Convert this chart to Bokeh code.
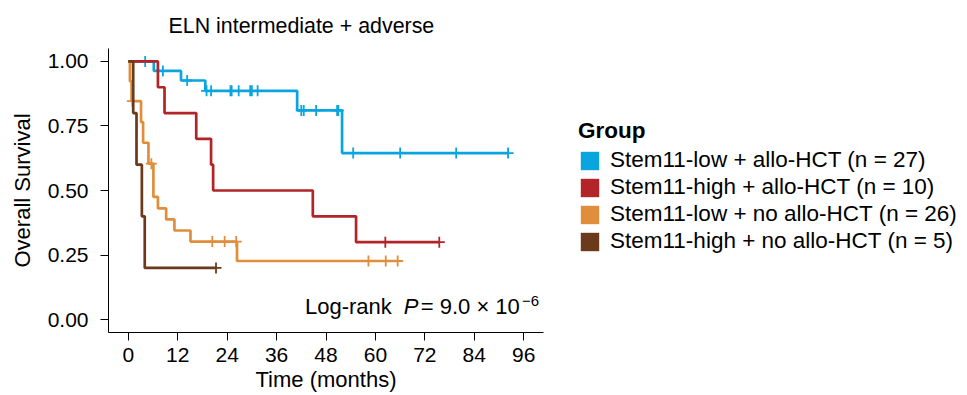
import numpy as np
from bokeh.plotting import figure
from bokeh.models import (Range1d, FixedTicker, NumeralTickFormatter, Legend,
                          LegendItem, Label)
from bokeh.embed import file_html
from bokeh.resources import INLINE

# ---------------- data ----------------
title_text = "ELN intermediate + adverse"
groups = ["Stem11-low + allo-HCT", "Stem11-high + allo-HCT",
          "Stem11-low + no allo-HCT", "Stem11-high + no allo-HCT"]
n_patients = [27, 10, 26, 5]
colors = ["#0AA5DF", "#B22428", "#E08E3C", "#6A3A1A"]

low_hct_times = [0, 6.2, 12.8, 18.7, 41.0, 51.9]
low_hct_surv = [1.0, 0.963, 0.926, 0.886, 0.810, 0.645]
low_hct_censor = [4.1, 8.4, 14.3, 19.0, 20.1, 24.8, 25.1, 26.8, 29.6, 30.0,
                  31.4, 42.0, 42.6, 45.6, 50.7, 51.0, 54.6, 66.0, 79.6, 92.2]

high_hct_times = [0, 7.2, 8.8, 16.5, 20.1, 20.6, 44.8, 55.3]
high_hct_surv = [1.0, 0.9, 0.8, 0.7, 0.6, 0.5, 0.4, 0.3]
high_hct_censor = [62.4, 75.5]

low_nohct_times = [0, 0.4, 0.8, 3.1, 3.6, 4.9, 6.1, 7.2, 9.2, 11.2, 15.1, 26.4]
low_nohct_surv = [1.0, 0.923, 0.846, 0.765, 0.685, 0.604, 0.475, 0.431,
                  0.388, 0.345, 0.302, 0.227]
low_nohct_censor = [1.0, 5.6, 20.4, 23.4, 26.2, 58.3, 62.5, 65.4]

high_nohct_times = [0, 1.2, 2.0, 3.3, 4.0]
high_nohct_surv = [1.0, 0.8, 0.6, 0.4, 0.2]
high_nohct_censor = [21.3]

x_ticks = [0, 12, 24, 36, 48, 60, 72, 84, 96]
y_ticks = [0.0, 0.25, 0.50, 0.75, 1.0]

pvalue_parts = ["Log-rank ", "P", "= 9.0 × 10", "−6"]

series = [
    (low_hct_times, low_hct_surv, low_hct_censor),
    (high_hct_times, high_hct_surv, high_hct_censor),
    (low_nohct_times, low_nohct_surv, low_nohct_censor),
    (high_nohct_times, high_nohct_surv, high_nohct_censor),
]

FONT = "Liberation Sans"

p = figure(frame_width=435, frame_height=284,
           min_border_left=108, min_border_right=424,
           min_border_top=48, min_border_bottom=63,
           x_range=Range1d(-4.8, 100.8), y_range=Range1d(-0.05, 1.05),
           output_backend="svg", toolbar_location=None)

p.outline_line_color = None
p.xgrid.visible = False
p.ygrid.visible = False
p.background_fill_color = "white"
p.border_fill_color = "white"

p.title.text = title_text
p.title.text_font = FONT
p.title.text_font_size = "21.4px"
p.title.text_font_style = "normal"
p.title.text_color = "black"
p.title.align = "left"
p.title.offset = 60
p.title.standoff = 22

for ax in (p.xaxis[0], p.yaxis[0]):
    ax.axis_line_color = "black"
    ax.axis_line_width = 1
    ax.major_tick_line_color = "black"
    ax.major_tick_out = 8
    ax.major_tick_in = 0
    ax.minor_tick_line_color = None
    ax.major_label_text_font = FONT
    ax.major_label_text_font_size = "21px"
    ax.major_label_text_color = "black"
    ax.axis_label_text_font = FONT
    ax.axis_label_text_font_size = "22px"
    ax.axis_label_text_font_style = "normal"
    ax.axis_label_text_color = "black"

p.xaxis.ticker = FixedTicker(ticks=x_ticks)
p.yaxis.ticker = FixedTicker(ticks=y_ticks)
p.yaxis.formatter = NumeralTickFormatter(format="0.00")
p.xaxis.axis_label = "Time (months)"
p.yaxis.axis_label = "Overall Survival"
p.xaxis.major_label_standoff = 7
p.xaxis.axis_label_standoff = 2
p.yaxis.major_label_standoff = 12
p.yaxis.axis_label_standoff = 10

legend_items = []
for (times, surv, cens), color, name, n in zip(series, colors, groups, n_patients):
    t = np.array(times, dtype=float)
    s = np.array(surv, dtype=float)
    end = max(cens[-1], t[-1])
    xs = np.append(t, end)
    ys = np.append(s, s[-1])
    p.step(x=xs, y=ys, mode="after", line_color=color, line_width=2.7)
    c = np.array(cens, dtype=float)
    idx = np.searchsorted(t, c, side="right") - 1
    cy = s[idx]
    p.scatter(x=c, y=cy, marker="cross", size=11, line_color=color, line_width=1.8)
    # legend swatch renderer (no visible mark in the plot area)
    sw = p.quad(left=[np.nan], right=[np.nan], top=[np.nan], bottom=[np.nan],
                fill_color=color, line_color=None)
    legend_items.append(LegendItem(label=f"{name} (n = {n})", renderers=[sw]))

legend = Legend(items=legend_items, location=(35, 78), title="Group",
                title_text_font=FONT, title_text_font_size="22.5px",
                title_text_font_style="bold", title_text_color="black",
                title_standoff=3,
                label_text_font=FONT, label_text_font_size="22.5px",
                label_text_color="black",
                glyph_width=23, glyph_height=23, label_standoff=9,
                spacing=1, padding=0, margin=20,
                border_line_color=None, background_fill_alpha=0)
p.add_layout(legend, "right")

# log-rank annotation
base_y = 0.0505
p.add_layout(Label(x=42.9, y=base_y, text=pvalue_parts[0], text_font=FONT,
                   text_font_size="22px", text_color="black",
                   text_baseline="alphabetic"))
p.add_layout(Label(x=66.9, y=base_y, text=pvalue_parts[1], text_font=FONT,
                   text_font_size="22px", text_font_style="italic",
                   text_color="black", text_baseline="alphabetic"))
p.add_layout(Label(x=71.0, y=base_y, text=pvalue_parts[2], text_font=FONT,
                   text_font_size="22px", text_color="black",
                   text_baseline="alphabetic"))
p.add_layout(Label(x=95.6, y=0.0725, text=pvalue_parts[3], text_font=FONT,
                   text_font_size="15px", text_color="black",
                   text_baseline="alphabetic"))

open("out.html", "w").write(file_html(p, INLINE))
